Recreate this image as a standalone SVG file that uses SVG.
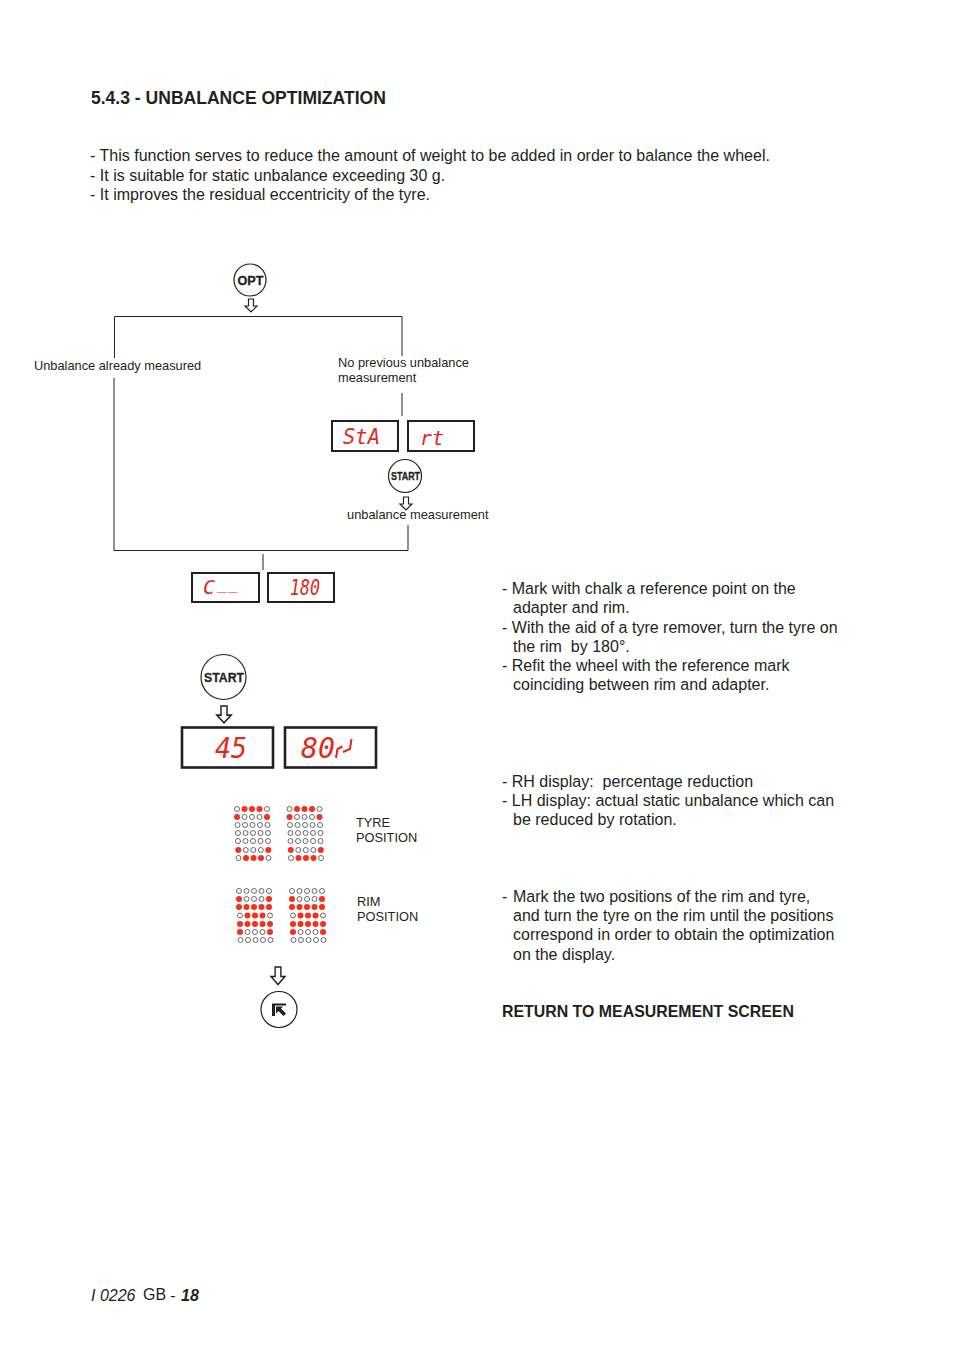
<svg xmlns="http://www.w3.org/2000/svg" width="954" height="1351" viewBox="0 0 954 1351">
<style>
text{font-family:"Liberation Sans",Arial,sans-serif;fill:#231f20}
.h{font-weight:bold;font-size:17.55px}
.b{font-size:16.02px}
.s{font-size:12.8px}
.p{font-size:12.8px}
.line{fill:none;stroke:#231f20;stroke-width:1}
.disp{fill:#fff;stroke:#231f20;stroke-width:2}
.disp2{fill:#fff;stroke:#231f20;stroke-width:2.6}
.seg{font-family:"DejaVu Sans Mono",monospace;font-style:italic;fill:#e02a1c}
.btn{fill:#fff;stroke:#231f20;stroke-width:1.2}
.bt{font-weight:bold;text-anchor:middle;stroke:#231f20;stroke-width:.3}
.arr{fill:#fff;stroke:#231f20;stroke-width:1.2}
.o{fill:#fff;stroke:#5a5a5a;stroke-width:.9}
.r{fill:#f5301c}
</style>
<defs>
<polygon id="arrow" points="-2.5,0 2.5,0 2.5,7 6,7 0,13 -6,7 -2.5,7"/>
<g id="m-tyre">
<circle class="o" cx="0" cy="0" r="2.5"/><circle class="r" cx="7.5" cy="0" r="3"/><circle class="r" cx="15" cy="0" r="3"/><circle class="r" cx="22.5" cy="0" r="3"/><circle class="o" cx="30" cy="0" r="2.5"/>
<circle class="r" cx="0" cy="8" r="3"/><circle class="o" cx="7.5" cy="8" r="2.5"/><circle class="o" cx="15" cy="8" r="2.5"/><circle class="o" cx="22.5" cy="8" r="2.5"/><circle class="r" cx="30" cy="8" r="3"/>
<circle class="o" cx="0.5" cy="16" r="2.5"/><circle class="o" cx="8" cy="16" r="2.5"/><circle class="o" cx="15.5" cy="16" r="2.5"/><circle class="o" cx="23" cy="16" r="2.5"/><circle class="o" cx="30.5" cy="16" r="2.5"/>
<circle class="o" cx="1" cy="24" r="2.5"/><circle class="o" cx="8.5" cy="24" r="2.5"/><circle class="o" cx="16" cy="24" r="2.5"/><circle class="o" cx="23.5" cy="24" r="2.5"/><circle class="o" cx="31" cy="24" r="2.5"/>
<circle class="o" cx="1" cy="32" r="2.5"/><circle class="o" cx="8.5" cy="32" r="2.5"/><circle class="o" cx="16" cy="32" r="2.5"/><circle class="o" cx="23.5" cy="32" r="2.5"/><circle class="o" cx="31" cy="32" r="2.5"/>
<circle class="r" cx="1.3" cy="41" r="3"/><circle class="o" cx="8.8" cy="41" r="2.5"/><circle class="o" cx="16.3" cy="41" r="2.5"/><circle class="o" cx="23.8" cy="41" r="2.5"/><circle class="r" cx="31.3" cy="41" r="3"/>
<circle class="o" cx="1.5" cy="49" r="2.5"/><circle class="r" cx="9" cy="49" r="3"/><circle class="r" cx="16.5" cy="49" r="3"/><circle class="r" cx="24" cy="49" r="3"/><circle class="o" cx="31.5" cy="49" r="2.5"/>
</g>
<g id="m-rim">
<circle class="o" cx="0" cy="0" r="2.5"/><circle class="o" cx="7.5" cy="0" r="2.5"/><circle class="o" cx="15" cy="0" r="2.5"/><circle class="o" cx="22.5" cy="0" r="2.5"/><circle class="o" cx="30" cy="0" r="2.5"/>
<circle class="r" cx="0" cy="8" r="3"/><circle class="o" cx="7.5" cy="8" r="2.5"/><circle class="o" cx="15" cy="8" r="2.5"/><circle class="o" cx="22.5" cy="8" r="2.5"/><circle class="r" cx="30" cy="8" r="3"/>
<circle class="r" cx="0" cy="16" r="3"/><circle class="r" cx="7.5" cy="16" r="3"/><circle class="r" cx="15" cy="16" r="3"/><circle class="r" cx="22.5" cy="16" r="3"/><circle class="r" cx="30" cy="16" r="3"/>
<circle class="o" cx="1" cy="24.5" r="2.5"/><circle class="r" cx="8.5" cy="24.5" r="3"/><circle class="r" cx="16" cy="24.5" r="3"/><circle class="r" cx="23.5" cy="24.5" r="3"/><circle class="o" cx="31" cy="24.5" r="2.5"/>
<circle class="r" cx="1" cy="33" r="3"/><circle class="r" cx="8.5" cy="33" r="3"/><circle class="r" cx="16" cy="33" r="3"/><circle class="r" cx="23.5" cy="33" r="3"/><circle class="r" cx="31" cy="33" r="3"/>
<circle class="r" cx="1" cy="41" r="3"/><circle class="o" cx="8.5" cy="41" r="2.5"/><circle class="o" cx="16" cy="41" r="2.5"/><circle class="o" cx="23.5" cy="41" r="2.5"/><circle class="r" cx="31" cy="41" r="3"/>
<circle class="o" cx="1.5" cy="49" r="2.5"/><circle class="o" cx="9" cy="49" r="2.5"/><circle class="o" cx="16.5" cy="49" r="2.5"/><circle class="o" cx="24" cy="49" r="2.5"/><circle class="o" cx="31.5" cy="49" r="2.5"/>
</g>
</defs>
<rect width="954" height="1351" fill="#fff"/>
<text class="h" x="91" y="104">5.4.3 - UNBALANCE OPTIMIZATION</text>
<g id="intro">
<text class="b" x="90" y="161">- This function serves to reduce the amount of weight to be added in order to balance the wheel.</text>
<text class="b" x="90" y="181">- It is suitable for static unbalance exceeding 30 g.</text>
<text class="b" x="90" y="200">- It improves the residual eccentricity of the tyre.</text>
</g>
<g id="connectors">
<path class="line" d="M114.500 358V316.500H402V356M114 378V550.500H408V525M402 393V416M263 554V570"/>
<use href="#arrow" class="arr" x="251" y="299"/>
<use href="#arrow" class="arr" x="406" y="497"/>
<use href="#arrow" class="arr" transform="translate(224 706) scale(1.2 1.3)"/>
<use href="#arrow" class="arr" transform="translate(278 967) scale(1.15 1.35)"/>
</g>
<g id="btn-opt"><circle class="btn" cx="250" cy="280" r="16"/><text class="bt" x="250.500" y="284.500" font-size="13" textLength="26" lengthAdjust="spacingAndGlyphs">OPT</text></g>
<g id="lbl-a"><text class="s" x="34" y="370">Unbalance already measured</text></g>
<g id="lbl-b"><text class="s" x="338" y="367">No previous unbalance</text><text class="s" x="338" y="382">measurement</text></g>
<g id="disp-sta"><rect class="disp" x="332" y="421" width="66" height="30"/><text class="seg" x="343" y="444" font-size="20.500">StA</text></g>
<g id="disp-rt"><rect class="disp" x="408" y="421" width="66" height="30"/><text class="seg" x="420" y="445" font-size="20">rt</text></g>
<g id="btn-start1"><circle class="btn" cx="405" cy="476" r="16.500"/><text class="bt" x="405.500" y="480" font-size="10.300" textLength="29" lengthAdjust="spacingAndGlyphs">START</text></g>
<g id="lbl-c"><text class="s" x="347" y="519" font-size="12.870" style="font-size:12.87px">unbalance measurement</text></g>
<g id="disp-c"><rect class="disp" x="192" y="573" width="67" height="29"/><text class="seg" x="203" y="594" font-size="20">C<tspan x="217" y="589" font-size="16">_</tspan><tspan x="228" y="589" font-size="16">_</tspan></text></g>
<g id="disp-180"><rect class="disp" x="268" y="573" width="66" height="29"/><text class="seg" x="290" y="595" font-size="21" textLength="30" lengthAdjust="spacingAndGlyphs">180</text></g>
<g id="btn-start2"><circle class="btn" cx="223.500" cy="677" r="22.500"/><text class="bt" x="224" y="682" font-size="13.500" textLength="40" lengthAdjust="spacingAndGlyphs">START</text></g>
<g id="disp-45"><rect class="disp2" x="182" y="727.500" width="91" height="40"/><text class="seg" x="215" y="758" font-size="28" textLength="32" lengthAdjust="spacingAndGlyphs">45</text></g>
<g id="disp-80"><rect class="disp2" x="285" y="727.500" width="91" height="40"/><text class="seg" x="301" y="758" font-size="28" textLength="34" lengthAdjust="spacingAndGlyphs">80</text><path d="M336 758l1.500-9 5-2.500M343 752l7-3 1.500-10" fill="none" stroke="#e02a1c" stroke-width="2"/></g>
<g id="tyre-leds"><use href="#m-tyre" x="237" y="809"/><use href="#m-tyre" x="289.500" y="809"/></g>
<g id="lbl-tyre"><text class="p" x="356" y="827">TYRE</text><text class="p" x="356" y="842">POSITION</text></g>
<g id="rim-leds"><use href="#m-rim" x="239" y="891"/><use href="#m-rim" x="292" y="891"/></g>
<g id="lbl-rim"><text class="p" x="357" y="906">RIM</text><text class="p" x="357" y="921">POSITION</text></g>
<g id="btn-return"><circle class="btn" cx="279" cy="1009.500" r="18"/><path d="M272 1016V1003.500H286V1005.500H275V1016ZM276 1006.500H283L281 1008.500L286 1013.500L283.500 1016L278.500 1011L276 1013.500Z" fill="#231f20"/></g>
<g id="notes">
<text class="b" x="502" y="594">- Mark with chalk a reference point on the</text>
<text class="b" x="513" y="613">adapter and rim.</text>
<text class="b" x="502" y="633">- With the aid of a tyre remover, turn the tyre on</text>
<text class="b" x="513" y="652" xml:space="preserve">the rim  by 180°.</text>
<text class="b" x="502" y="671">- Refit the wheel with the reference mark</text>
<text class="b" x="513" y="690">coinciding between rim and adapter.</text>
<text class="b" x="502" y="787" xml:space="preserve">- RH display:  percentage reduction</text>
<text class="b" x="502" y="806">- LH display: actual static unbalance which can</text>
<text class="b" x="513" y="825">be reduced by rotation.</text>
<text class="b" x="502" y="902">-<tspan x="513">Mark the two positions of the rim and tyre,</tspan></text>
<text class="b" x="513" y="921">and turn the tyre on the rim until the positions</text>
<text class="b" x="513" y="940">correspond in order to obtain the optimization</text>
<text class="b" x="513" y="960">on the display.</text>
<text x="502" y="1017" font-size="15.900" font-weight="bold">RETURN TO MEASUREMENT SCREEN</text>
</g>
<g id="footer"><text x="91" y="1301" font-size="16" font-style="italic">I 0226</text><text x="143" y="1300" font-size="16">GB</text><text x="170" y="1301" font-size="16" font-style="italic">-</text><text x="181" y="1301" font-size="16" font-style="italic" font-weight="bold">18</text></g>
</svg>
